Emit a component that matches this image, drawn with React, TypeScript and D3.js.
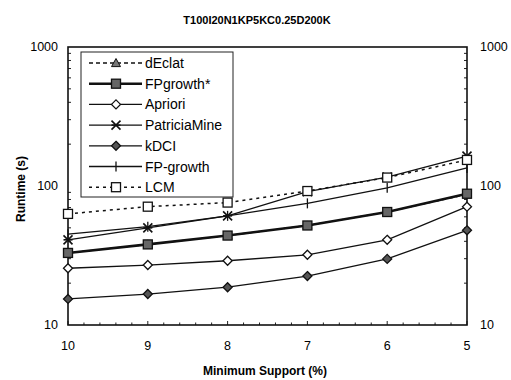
import React from "react";
import * as d3 from "d3";

const supports = [10, 9, 8, 7, 6, 5];
const seriesNames = ["dEclat", "FPgrowth*", "Apriori", "PatriciaMine", "kDCI", "FP-growth", "LCM"];
const dEclat = [33, 38, 44, 52, 65, 87];
const fpgrowthStar = [33, 38, 44, 52, 65, 88];
const apriori = [25.6, 27, 29, 32, 41, 71];
const patriciaMine = [41, 50, 61, 91, 116, 164];
const kdci = [15.4, 16.7, 18.7, 22.5, 29.9, 48];
const fpgrowth = [45, 51, 61, 75, 97, 135];
const lcm = [63, 71, 76, 92, 115, 154];
const yTicks = [10, 100, 1000];
const xTicks = [10, 9, 8, 7, 6, 5];

const W = 511, H = 380;
const L = 68, R = 467, T = 47, B = 325;
const FONT = "'Liberation Sans', Arial, sans-serif";

type Style = { width: number; dash?: string; marker: string; fill: string };
const styles: Style[] = [
  { width: 1.3, dash: "4,3", marker: "triangle", fill: "#777" },
  { width: 2.6, marker: "square", fill: "#666" },
  { width: 1.3, marker: "diamond", fill: "#fff" },
  { width: 1.3, marker: "x", fill: "none" },
  { width: 1.3, marker: "diamond", fill: "#555" },
  { width: 1.3, marker: "plus", fill: "none" },
  { width: 1.5, dash: "3,4", marker: "square", fill: "#fff" },
];
const data = [dEclat, fpgrowthStar, apriori, patriciaMine, kdci, fpgrowth, lcm];

function Marker({ kind, x, y, fill }: { kind: string; x: number; y: number; fill: string }) {
  const s = 4.5;
  if (kind === "square")
    return <rect x={x - s} y={y - s} width={2 * s} height={2 * s} fill={fill} stroke="#111" strokeWidth={1.3} />;
  if (kind === "diamond")
    return <path d={`M${x},${y - s}L${x + s},${y}L${x},${y + s}L${x - s},${y}Z`} fill={fill} stroke="#111" strokeWidth={1.3} />;
  if (kind === "triangle")
    return <path d={`M${x},${y - s}L${x + s},${y + s * 0.8}L${x - s},${y + s * 0.8}Z`} fill={fill} stroke="#111" strokeWidth={1} />;
  if (kind === "x")
    return (
      <g stroke="#111" strokeWidth={1.6}>
        <line x1={x - s} y1={y - s} x2={x + s} y2={y + s} />
        <line x1={x - s} y1={y + s} x2={x + s} y2={y - s} />
        <line x1={x - s} y1={y} x2={x + s} y2={y} />
      </g>
    );
  if (kind === "plus")
    return <line x1={x} y1={y - 5} x2={x} y2={y + 5} stroke="#111" strokeWidth={1.3} />;
  return null;
}

export default function App() {
  const x = d3.scaleLinear().domain([10, 5]).range([L, R]);
  const y = d3.scaleLog().domain([10, 1000]).range([B, T]);
  const line = d3
    .line<number>()
    .x((_, i) => x(supports[i]))
    .y((d) => y(d));

  const minorY: number[] = [];
  for (const dec of [10, 100]) for (let k = 2; k <= 9; k++) minorY.push(dec * k);
  const minorX: number[] = d3.range(50, 101, 2).map((v) => v / 10);

  const legX0 = 81, legY0 = 52, legW = 152, legH = 145;
  const rowY = (i: number) => 63 + i * 20.7;

  return (
    <svg width={W} height={H} style={{ position: "absolute", left: 0, top: 0, background: "#fff" }} fontFamily={FONT}>
      <rect x={0} y={0} width={W} height={H} fill="#fff" />
      <text x={257} y={24} textAnchor="middle" fontSize={11} fontWeight="bold">
        T100I20N1KP5KC0.25D200K
      </text>
      {/* minor ticks */}
      {minorY.map((v) => (
        <g key={"my" + v} stroke="#222" strokeWidth={1}>
          <line x1={L} x2={L + 3} y1={y(v)} y2={y(v)} />
          <line x1={R} x2={R - 3} y1={y(v)} y2={y(v)} />
        </g>
      ))}
      {minorX.map((v) => (
        <line key={"mx" + v} x1={x(v)} x2={x(v)} y1={B} y2={B - (Number.isInteger(v) ? 4 : 2.5)} stroke="#222" strokeWidth={1} />
      ))}
      {/* frame */}
      <rect x={L} y={T} width={R - L} height={B - T} fill="none" stroke="#111" strokeWidth={1.6} />
      {/* y labels */}
      {yTicks.map((v) => (
        <g key={"yt" + v} fontSize={12.5}>
          <text x={58} y={y(v)} dy="0.35em" textAnchor="end">{v}</text>
          <text x={480} y={y(v)} dy="0.35em" textAnchor="start">{v}</text>
        </g>
      ))}
      {xTicks.map((v) => (
        <text key={"xt" + v} x={x(v)} y={350} textAnchor="middle" fontSize={12.5}>{v}</text>
      ))}
      <text x={265} y={375} textAnchor="middle" fontSize={12} fontWeight="bold">Minimum Support (%)</text>
      <text transform="translate(25,189) rotate(-90)" textAnchor="middle" fontSize={12} fontWeight="bold">Runtime (s)</text>
      {/* series */}
      {data.map((vals, si) => (
        <path key={"l" + si} d={line(vals) || ""} fill="none" stroke="#111" strokeWidth={styles[si].width} strokeDasharray={styles[si].dash} />
      ))}
      {data.map((vals, si) =>
        vals.map((v, i) => <Marker key={"m" + si + "-" + i} kind={styles[si].marker} x={x(supports[i])} y={y(v)} fill={styles[si].fill} />)
      )}
      {/* legend */}
      <rect x={legX0} y={legY0} width={legW} height={legH} fill="#fff" stroke="#222" strokeWidth={1} />
      {seriesNames.map((name, i) => (
        <g key={"lg" + i}>
          <line x1={89} x2={142} y1={rowY(i)} y2={rowY(i)} stroke="#111" strokeWidth={styles[i].width} strokeDasharray={styles[i].dash} />
          <Marker kind={styles[i].marker} x={116} y={rowY(i)} fill={styles[i].fill} />
          <text x={145} y={rowY(i)} dy="0.36em" fontSize={14}>{name}</text>
        </g>
      ))}
    </svg>
  );
}
